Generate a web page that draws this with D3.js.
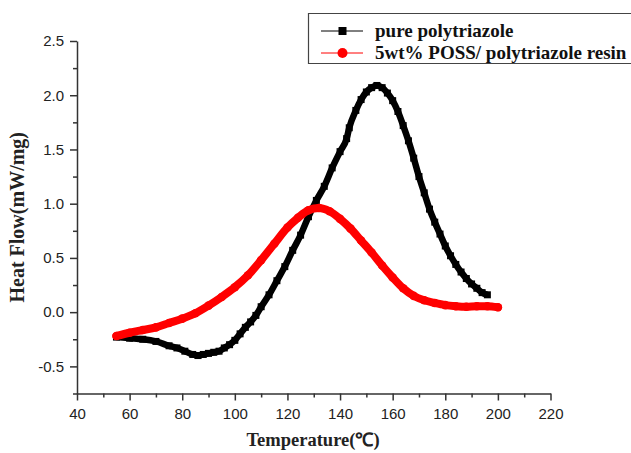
<!DOCTYPE html>
<html>
  <head>
    <meta charset="utf-8">
    <script src="https://d3js.org/d3.v7.min.js"></script>
    <style>
      body { margin: 0; background: #fff; overflow: hidden; }
      .tick text { font-family: "Liberation Sans", Arial, sans-serif; font-size: 15px; fill: #222; }
      .axis-label { font-family: "Liberation Serif", "Times New Roman", serif; font-weight: bold; fill: #222; }
      .legend text { font-family: "Liberation Serif", "Times New Roman", serif; font-weight: bold; font-size: 19px; fill: #111; }
    </style>
  </head>
  <body>
    <svg></svg>
    <script>
      // pure polytriazole
      var tempPure = [55, 60, 65, 70, 75, 78, 81, 84, 86, 88, 90, 92, 94, 96, 98, 100, 102, 104, 106, 108, 110, 113, 116, 119, 122, 125, 128, 131, 134, 137, 140, 142.5, 143.5, 146, 148, 150, 152, 154, 156, 158, 160, 162, 164, 166, 168, 170, 172, 174, 176, 178, 180, 182, 184, 186, 188, 190, 192, 194, 196];
      var flowPure = [-0.23, -0.24, -0.25, -0.27, -0.31, -0.33, -0.36, -0.39, -0.40, -0.39, -0.38, -0.37, -0.36, -0.33, -0.30, -0.26, -0.20, -0.14, -0.09, -0.03, 0.05, 0.16, 0.29, 0.42, 0.57, 0.71, 0.88, 1.03, 1.16, 1.33, 1.48, 1.60, 1.70, 1.86, 1.96, 2.03, 2.07, 2.09, 2.07, 2.02, 1.95, 1.85, 1.72, 1.58, 1.42, 1.25, 1.10, 0.95, 0.83, 0.72, 0.61, 0.52, 0.44, 0.37, 0.31, 0.26, 0.22, 0.18, 0.16];

      // 5wt% POSS/ polytriazole resin
      var tempPoss = [55, 60, 65, 70, 75, 80, 85, 90, 95, 100, 105, 110, 115, 120, 124, 128, 132, 136, 140, 144, 148, 152, 156, 160, 164, 168, 172, 176, 180, 184, 188, 192, 196, 200];
      var flowPoss = [-0.22, -0.19, -0.165, -0.14, -0.10, -0.06, -0.01, 0.06, 0.14, 0.23, 0.34, 0.48, 0.63, 0.78, 0.87, 0.94, 0.96, 0.93, 0.86, 0.77, 0.66, 0.55, 0.43, 0.32, 0.22, 0.15, 0.11, 0.085, 0.065, 0.055, 0.05, 0.055, 0.055, 0.045];

      var xTicks = [40, 60, 80, 100, 120, 140, 160, 180, 200, 220];
      var yTicks = [-0.5, 0.0, 0.5, 1.0, 1.5, 2.0, 2.5];
      var seriesNames = ['pure polytriazole', '5wt% POSS/ polytriazole resin'];

      const svg = d3.select('svg')
        .attr('width', 631)
        .attr('height', 453)
        .style('display', 'block');

      var margin = { top: 41, left: 77 };
      var innerWidth = 473.5;
      var innerHeight = 352.5;

      const g = svg.append('g')
        .attr('transform', `translate(${margin.left},${margin.top})`);

      const xScale = d3.scaleLinear().domain([40, 220]).range([0, innerWidth]);
      const yScale = d3.scaleLinear().domain([-0.75, 2.5]).range([innerHeight, 0]);

      // minor ticks (no labels)
      const xMinor = d3.axisBottom(xScale).tickValues(d3.range(50, 220, 20)).tickSize(4);
      const yMinor = d3.axisLeft(yScale).tickValues(d3.range(-0.75, 2.5, 0.5)).tickSize(4);
      g.append('g').attr('transform', `translate(0,${innerHeight})`).call(xMinor)
        .call(a => a.selectAll('.domain, text').remove());
      g.append('g').call(yMinor).call(a => a.selectAll('.domain, text').remove());

      const xAxis = d3.axisBottom(xScale).tickValues(xTicks).tickSize(7).tickPadding(8).tickSizeOuter(0);
      const yAxis = d3.axisLeft(yScale).tickValues(yTicks).tickSize(7).tickPadding(6).tickSizeOuter(0)
        .tickFormat(d3.format('.1f'));

      g.append('g').attr('transform', `translate(0,${innerHeight})`).call(xAxis);
      const yAxisG = g.append('g').call(yAxis);
      g.selectAll('.domain, .tick line').attr('stroke', '#333').attr('stroke-width', 1.5);
      yAxisG.selectAll('.tick text').text(d => d3.format('.1f')(d).replace('−', '-'));

      svg.append('text')
        .attr('class', 'axis-label')
        .attr('x', 313)
        .attr('y', 446)
        .attr('text-anchor', 'middle')
        .style('font-size', '18.5px')
        .text('Temperature(℃)');

      svg.append('text')
        .attr('class', 'axis-label')
        .attr('transform', `translate(24,${margin.top + innerHeight / 2}) rotate(-90)`)
        .attr('text-anchor', 'middle')
        .style('font-size', '20px')
        .text('Heat Flow(mW/mg)');

      const pure = tempPure.map((t, i) => ({ t: t, v: flowPure[i] }));
      const poss = tempPoss.map((t, i) => ({ t: t, v: flowPoss[i] }));

      const line = d3.line()
        .x(d => xScale(d.t))
        .y(d => yScale(d.v))
        .curve(d3.curveMonotoneX);

      // pure: thick line + square symbols
      g.append('path').datum(pure)
        .attr('d', line).attr('fill', 'none')
        .attr('stroke', '#000').attr('stroke-width', 6.5);
      g.selectAll('rect.pure').data(pure).enter().append('rect')
        .attr('class', 'pure')
        .attr('x', d => xScale(d.t) - 3.5)
        .attr('y', d => yScale(d.v) - 3.5)
        .attr('width', 7).attr('height', 7)
        .attr('fill', '#000');

      // poss: thick line + circle symbols
      g.append('path').datum(poss)
        .attr('d', line).attr('fill', 'none')
        .attr('stroke', '#f00').attr('stroke-width', 8).attr('stroke-linecap', 'round');
      g.selectAll('circle.poss').data(poss).enter().append('circle')
        .attr('class', 'poss')
        .attr('cx', d => xScale(d.t))
        .attr('cy', d => yScale(d.v))
        .attr('r', 4.3)
        .attr('fill', '#f00');

      // legend (box runs off the right edge, as in the original)
      const legend = svg.append('g').attr('class', 'legend');
      legend.append('path')
        .attr('d', 'M631,13.5H308.5V63.5H631')
        .attr('fill', '#fff').attr('stroke', '#444').attr('stroke-width', 1.2);
      var rowY = [31, 53];
      legend.selectAll('line').data(rowY).enter().append('line')
        .attr('x1', 321).attr('x2', 363)
        .attr('y1', d => d).attr('y2', d => d)
        .attr('stroke', (d, i) => i === 0 ? '#000' : '#f00').attr('stroke-width', 1);
      legend.append('rect').attr('x', 338.5).attr('y', rowY[0] - 4).attr('width', 8).attr('height', 8).attr('fill', '#000');
      legend.append('circle').attr('cx', 342.5).attr('cy', rowY[1]).attr('r', 5).attr('fill', '#f00');
      legend.selectAll('text').data(seriesNames).enter().append('text')
        .attr('x', 375)
        .attr('y', (d, i) => rowY[i] + 6)
        .text(d => d);
    </script>
  </body>
</html>
